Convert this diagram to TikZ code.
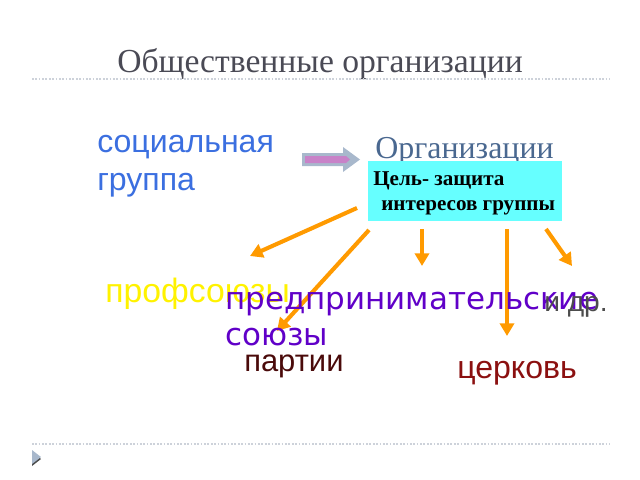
\documentclass[tikz,border=0pt]{standalone}
\usepackage{fontspec}
\setmainfont{Liberation Serif}
\setsansfont{Liberation Sans}
\newfontfamily\dejavu{DejaVu Sans}
\usetikzlibrary{arrows.meta}

\definecolor{titlegray}{HTML}{4A4A55}
\definecolor{socblue}{HTML}{3B6FE0}
\definecolor{orgblue}{HTML}{4A6890}
\definecolor{boxcyan}{HTML}{66FFFF}
\definecolor{arrorange}{HTML}{FF9A00}
\definecolor{prpurple}{HTML}{6000C8}
\definecolor{partbrown}{HTML}{4A0A0A}
\definecolor{churchred}{HTML}{8B1010}
\definecolor{dotgray}{HTML}{CDD2DA}
\definecolor{bigarrow}{HTML}{A8B8CC}
\definecolor{bigpink}{HTML}{C882C8}

\begin{document}
\begin{tikzpicture}[x=0.025cm, y=-0.025cm,
  txt/.style={inner sep=0pt, anchor=base west},
  orangearrow/.style={arrorange, line width=2.9pt, -{Triangle[length=9pt, width=10pt]}},
  dotline/.style={dotgray, dash pattern=on 1.2pt off 1.2pt, line width=0.8pt}]

  \useasboundingbox (0,0) rectangle (640,480);

  % title and rules
  \node[txt, anchor=base, titlegray, font=\fontsize{23.9pt}{27pt}\selectfont] (title) at (320,72) {Общественные организации};
  \draw[dotline] (32,79) -- (610,79);
  \draw[dotline] (32,444) -- (610,444);
  \fill[black!70] (32,452) -- (41,459) -- (32,466) -- cycle;
  \fill[bigarrow] (32,450) -- (41,457) -- (32,464) -- cycle;

  % left text and block arrow
  \node[txt, socblue, font=\sffamily\fontsize{22.8pt}{26pt}\selectfont] (soc) at (97,152) {социальная};
  \node[txt, socblue, font=\sffamily\fontsize{22.8pt}{26pt}\selectfont] (grp) at (97,190) {группа};

  \fill[bigarrow] (302,153) -- (343,153) -- (343,147) -- (360,159.5) -- (343,172) -- (343,166) -- (302,166) -- cycle;
  \fill[bigpink] (305,156) -- (346,156) -- (350,159.5) -- (346,163) -- (305,163) -- cycle;

  % organisation and goal box
  \node[txt, orgblue, font=\fontsize{22.7pt}{26pt}\selectfont] (org) at (375,158) {Организации};
  \fill[boxcyan] (368,161) rectangle (562,221);
  \node[txt, font=\bfseries\fontsize{15pt}{18pt}\selectfont] (goal1) at (373,185) {Цель- защита};
  \node[txt, font=\bfseries\fontsize{15pt}{18pt}\selectfont] (goal2) at (381,210) {интересов группы};

  % arrows
  \coordinate (s1) at (357,208);
  \coordinate (e1) at (250,256);
  \coordinate (s2) at (369,230);
  \coordinate (e2) at (277,331);
  \coordinate (s3) at (422,229);
  \coordinate (e3) at (422,266);
  \coordinate (s4) at (507,229);
  \coordinate (e4) at (507,336);
  \coordinate (s5) at (546,229);
  \coordinate (e5) at (572,266);

  \draw[orangearrow] (s1) -- (e1);
  \draw[orangearrow] (s2) -- (e2);
  \draw[orangearrow] (s3) -- (e3);
  \draw[orangearrow] (s4) -- (e4);
  \draw[orangearrow] (s5) -- (e5);

  % labels
  \node[txt, yellow, font=\sffamily\fontsize{24pt}{28pt}\selectfont] (prof) at (105,302) {профсоюзы};
  \node[txt, prpurple, font=\dejavu\fontsize{22pt}{26pt}\selectfont] (ent1) at (225,309) {предпринимательские};
  \node[txt, prpurple, font=\dejavu\fontsize{22pt}{26pt}\selectfont] (ent2) at (225,345) {союзы};
  \node[txt, black!70, font=\sffamily\fontsize{20pt}{24pt}\selectfont] (etc) at (544,311) {и др.};
  \node[txt, partbrown, font=\sffamily\fontsize{22pt}{26pt}\selectfont] (party) at (244,371) {партии};
  \node[txt, churchred, font=\sffamily\fontsize{22.8pt}{26pt}\selectfont] (church) at (457,378) {церковь};

\end{tikzpicture}
\end{document}
